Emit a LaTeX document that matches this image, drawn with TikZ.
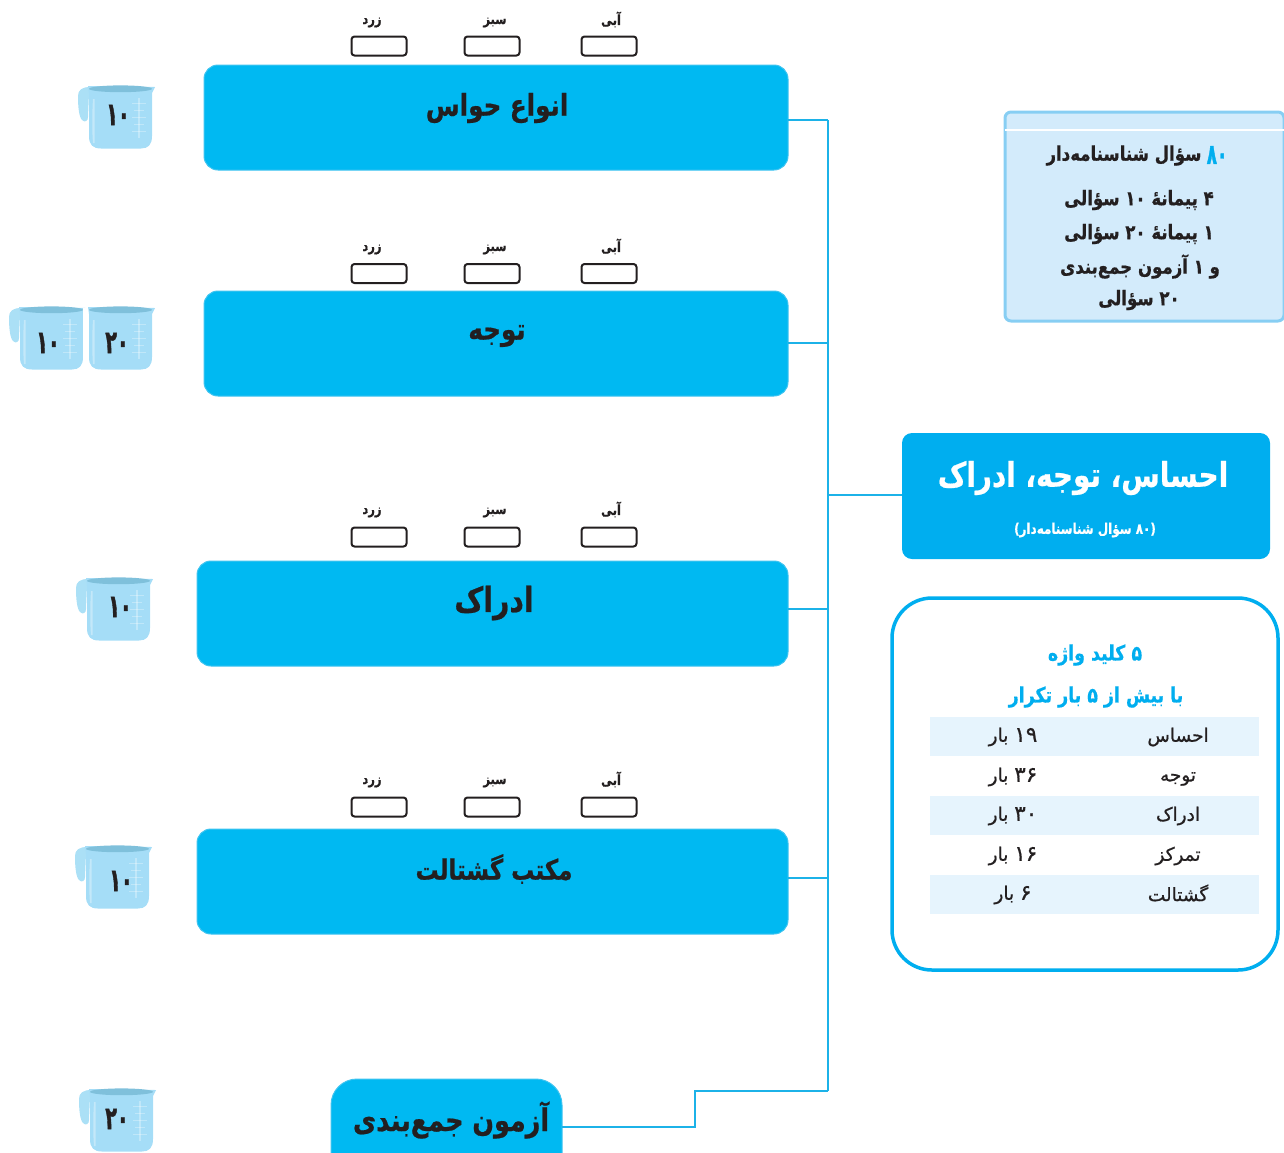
\documentclass[tikz,border=0pt]{standalone}
\usepackage{fontspec}
\TeXXeTstate=1
\newfontfamily\fa[Script=Arabic,FakeBold=0.8]{DejaVu Sans}
\newfontfamily\fh[Script=Arabic,FakeStretch=0.82,FakeBold=0.6]{DejaVu Sans Bold}
\newfontfamily\fn[Script=Arabic,FakeStretch=0.6,FakeBold=1.2]{DejaVu Sans Bold}
\newcommand{\R}[1]{\beginR #1\endR}
\newcommand{\Ln}[1]{\beginL #1\endL{}}
\newcommand{\Rn}[1]{\beginL{\fontsize{21.5}{22}\selectfont #1}\endL{}}
\definecolor{boxblue}{HTML}{00B9F2}
\definecolor{boxedge}{HTML}{3FC4F0}
\definecolor{mainblue}{HTML}{00AEEF}
\definecolor{linkblue}{HTML}{1CB2E8}
\definecolor{infofill}{HTML}{D3EBFB}
\definecolor{infoedge}{HTML}{87CEF3}
\definecolor{rowfill}{HTML}{E6F4FD}
\definecolor{ink}{HTML}{231F20}
\definecolor{mugbody}{HTML}{A5DDF7}
\definecolor{mugrim}{HTML}{7FC0DB}
\definecolor{mughandle}{HTML}{ABE0F6}
\tikzset{
 x=1pt,y=-1pt,
 every node/.style={font=\fa,text=ink,inner sep=0pt,outer sep=0pt},
 topicbox/.style={draw=boxedge,line width=1pt,fill=boxblue,rounded corners=14pt,minimum height=105pt},
 checkbox/.style={draw=ink,line width=2pt,fill=white,rounded corners=3pt,minimum width=55pt,minimum height=19pt},
 checklabel/.style={font=\fh\fontsize{14}{16}\selectfont},
 topictext/.style={font=\fh\fontsize{30}{34}\selectfont},
 link/.style={draw=linkblue,line width=1.5pt},
 rowband/.style={fill=rowfill,minimum width=329pt,minimum height=39pt},
 rowtext/.style={font=\fa\fontsize{18.5}{22}\selectfont},
 infotext/.style={font=\fh\fontsize{20.2}{24}\selectfont},
 keytitle/.style={font=\fh\fontsize{21.2}{24}\selectfont,text=mainblue},
 mugnum/.style={font=\fn\fontsize{32}{36}\selectfont},
}
% #1 x, #2 y of the mug's top-left corner
\newcommand{\mugbodyshape}[2]{%
 \begin{scope}[shift={(#1,#2)}]
  \fill[mugbody] (10,1) -- (77,2) -- (74,8) -- (74,51) .. controls (74,60) and (70,63.5) .. (63,63.5) -- (23,63.5) .. controls (15,63.5) and (11,60) .. (11,51) -- (11,8) -- cycle;
  \fill[white,opacity=.35] (15,14) .. controls (14,30) and (14,46) .. (15,58) -- (16.5,58) -- (16.5,14) -- cycle;
  \fill[mugrim] (42.5,3.8) ellipse [x radius=31.5pt,y radius=3.4pt];
  \draw[white,opacity=.3,line width=1.8pt] (61,13) -- (61,53);
  \draw[white,opacity=.3,line width=1pt]
   (54,18) -- (68,18) (56,25) -- (66,25) (54,32) -- (68,32) (56,39) -- (66,39) (54,46) -- (68,46);
 \end{scope}}
\newcommand{\mughandleshape}[2]{%
 \begin{scope}[shift={(#1,#2)}]
  \fill[mughandle] (12,2) .. controls (4,2) and (0,5) .. (0,11) .. controls (0,22) and (1,32) .. (4,35) .. controls (7,38) and (10,36) .. (10,32) -- (11,8) -- cycle;
 \end{scope}}
\begin{document}
\begin{tikzpicture}
\useasboundingbox (0,0) rectangle (1284,1152);
\clip (0,0) rectangle (1284,1152);
% coordinates of the connector trunk
\coordinate (t1) at (828,120);
\coordinate (t2) at (828,343);
\coordinate (tm) at (828,495);
\coordinate (t3) at (828,609);
\coordinate (t4) at (828,878);
\coordinate (t5) at (828,1091);
\coordinate (e5) at (695,1127);
% topic boxes
\node[topicbox,minimum width=584pt] (b1) at (496,117.5) {};
\node[topicbox,minimum width=584pt] (b2) at (496,343.5) {};
\node[topicbox,minimum width=591pt] (b3) at (492.5,613.5) {};
\node[topicbox,minimum width=591pt] (b4) at (492.5,881.5) {};
\node[topicbox,rounded corners=26pt,minimum width=231pt,minimum height=100pt] (b5) at (446.5,1129) {};
\node[topictext] (t1a) at (497,108) {\R{انواع حواس}};
\node[topictext] (t2a) at (497,336) {\R{توجه}};
\node[topictext,font=\fh\fontsize{34.5}{38}\selectfont] (t3a) at (494,603) {\R{ادراک}};
\node[topictext,font=\fh\fontsize{28}{32}\selectfont] (t4a) at (494,869) {\R{مکتب گشتالت}};
\node[topictext,font=\fh\fontsize{31}{35}\selectfont] (t5a) at (451,1120) {\R{آزمون جمع‌بندی}};
% connectors
\node[fill=mainblue,rounded corners=10pt,minimum width=368pt,minimum height=126pt] (mainb) at (1086,496) {};
\draw[link] (t1) -- (t5);
\draw[link] (b1.east |- t1) -- (t1);
\draw[link] (b2.east |- t2) -- (t2);
\draw[link] (b3.east |- t3) -- (t3);
\draw[link] (b4.east |- t4) -- (t4);
\draw[link] (mainb.west |- tm) -- (tm);
\draw[link] (b5.east |- e5) -- (e5) |- (t5);
% check boxes
\foreach \n/\yb/\yt in {a/46/20,b/273.5/247,c/537/510,d/807/780}{
 \node[checkbox] (y\n) at (379,\yb) {};
 \node[checkbox] (g\n) at (492,\yb) {};
 \node[checkbox] (l\n) at (609,\yb) {};
 \node[checklabel] (yt\n) at (372,\yt+2.5) {\R{زرد}};
 \node[checklabel] (gt\n) at (495,\yt+2.5) {\R{سبز}};
 \node[checklabel] (lt\n) at (611,\yt-0.5) {\R{آبی}};
}
% mugs
\mughandleshape{78}{85}\mugbodyshape{78}{85}
\node[mugnum] (m1) at (118,115) {\R{\Ln{۱۰}}};
\mughandleshape{9}{306}\mugbodyshape{9}{306}
\node[mugnum] (m2) at (48,343) {\R{\Ln{۱۰}}};
\fill[white] (83,308) rectangle (87,370);
\mugbodyshape{78}{306}
\node[mugnum] (m3) at (117,343) {\R{\Ln{۲۰}}};
\mughandleshape{76}{577}\mugbodyshape{76}{577}
\node[mugnum] (m4) at (120,607) {\R{\Ln{۱۰}}};
\mughandleshape{75}{845}\mugbodyshape{75}{845}
\node[mugnum] (m5) at (121,881) {\R{\Ln{۱۰}}};
\mughandleshape{79}{1088}\mugbodyshape{79}{1088}
\node[mugnum] (m6) at (117,1119) {\R{\Ln{۲۰}}};
% info box
\node[draw=infoedge,line width=3pt,fill=infofill,rounded corners=6pt,minimum width=279pt,minimum height=209pt] (info) at (1144.5,216.5) {};
\draw[white,line width=2.5pt] (info.west |- 0,130) -- (info.east |- 0,130);
\node[infotext,text=mainblue,font=\fn\fontsize{28}{30}\selectfont] (i0a) at (1217,155) {\R{\Ln{۸۰}}};
\node[infotext] (i0) at (1124,155.5) {\R{سؤال شناسنامه‌دار}};
\node[infotext] (i1) at (1139,200) {\R{\Ln{۴} پیمانهٔ \Ln{۱۰} سؤالی}};
\node[infotext] (i2) at (1139,234) {\R{\Ln{۱} پیمانهٔ \Ln{۲۰} سؤالی}};
\node[infotext] (i3) at (1140,266.5) {\R{و \Ln{۱} آزمون جمع‌بندی}};
\node[infotext] (i4) at (1139,300) {\R{\Ln{۲۰} سؤالی}};
% main box text
\node[font=\fh\fontsize{34}{38}\selectfont,text=white] (mt) at (1083,478) {\R{احساس، توجه، ادراک}};
\node[font=\fh\fontsize{14.6}{17}\selectfont,text=white] (ms) at (1085,530) {\R{(\Ln{۸۰} سؤال شناسنامه‌دار)}};
% keyword box
\node[draw=mainblue,line width=3.5pt,fill=white,rounded corners=40pt,minimum width=386pt,minimum height=372pt] (kb) at (1085,784) {};
\node[keytitle] (k1) at (1095,655) {\R{\Ln{۵} کلید واژه}};
\node[keytitle] (k2) at (1096,697) {\R{با بیش از \Ln{۵} بار تکرار}};
\node[rowband] (r1) at (1094.5,736.5) {};
\node[rowband] (r3) at (1094.5,815.5) {};
\node[rowband] (r5) at (1094.5,894.5) {};
\node[rowtext] (a1) at (1178,737) {\R{احساس}};
\node[rowtext] (a2) at (1178,779) {\R{توجه}};
\node[rowtext] (a3) at (1178,816) {\R{ادراک}};
\node[rowtext] (a4) at (1178,856) {\R{تمرکز}};
\node[rowtext] (a5) at (1178,893) {\R{گشتالت}};
\node[rowtext] (n1) at (1013,737) {\R{\Rn{۱۹} بار}};
\node[rowtext] (n2) at (1013,777) {\R{\Rn{۳۶} بار}};
\node[rowtext] (n3) at (1013,816) {\R{\Rn{۳۰} بار}};
\node[rowtext] (n4) at (1013,856) {\R{\Rn{۱۶} بار}};
\node[rowtext] (n5) at (1013,895) {\R{\Rn{۶} بار}};
\end{tikzpicture}
\end{document}
